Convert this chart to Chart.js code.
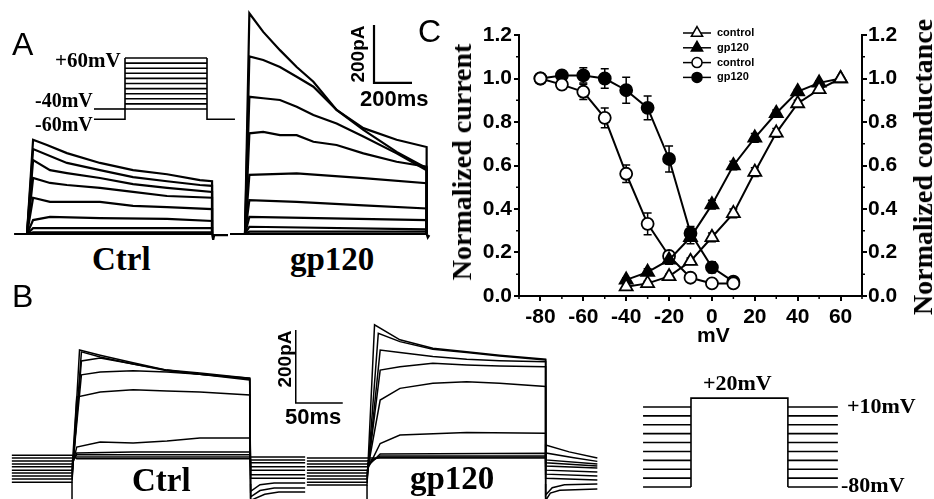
<!DOCTYPE html>
<html lang="en">
<head>
  <meta charset="UTF-8" />
  <title>Kv currents, gp120</title>
  <script src="https://cdn.jsdelivr.net/npm/chart.js"></script>
  <style>
    body { margin: 0; background: #fff; }
    #fig { position: relative; width: 934px; height: 499px; overflow: hidden; background: #fff; }
    #fig canvas { position: absolute; }
    .t { position: absolute; line-height: 1; white-space: nowrap; color: #000; }
    .serif { font-family: 'Liberation Serif', 'Times New Roman', serif; font-weight: bold; }
    .sans { font-family: 'Liberation Sans', Arial, sans-serif; font-weight: bold; }
    .panel { font-family: 'Liberation Sans', Arial, sans-serif; font-size: 32px; }
    .rot { transform: translate(-50%, -50%) rotate(-90deg); }
  </style>
</head>
<body>
<div id="fig">
  <canvas id="protoA" width="150" height="75" style="left:90px;top:50px"></canvas>
  <canvas id="ctrlA" width="220" height="240" style="left:10px;top:0px"></canvas>
  <canvas id="gpA" width="210" height="240" style="left:230px;top:0px"></canvas>
  <canvas id="ctrlB" width="350" height="189" style="left:0px;top:310px"></canvas>
  <canvas id="gpB" width="320" height="189" style="left:300px;top:310px"></canvas>
  <canvas id="protoB" width="220" height="105" style="left:630px;top:390px"></canvas>
  <canvas id="chartC" width="514" height="345" style="left:420px;top:0px"></canvas>

  <div class="t panel" style="left:12px;top:28px">A</div>
  <div class="t panel" style="left:12px;top:280px">B</div>
  <div class="t panel" style="left:418px;top:15px">C</div>

  <div class="t serif" style="left:55px;top:50px;font-size:21px">+60mV</div>
  <div class="t serif" style="left:35px;top:90px;font-size:20px">-40mV</div>
  <div class="t serif" style="left:35px;top:114px;font-size:20px">-60mV</div>
  <div class="t serif" style="left:92px;top:243px;font-size:33px">Ctrl</div>
  <div class="t serif" style="left:290px;top:243px;font-size:33px">gp120</div>
  <div class="t sans rot" style="left:357px;top:54px;font-size:19px">200pA</div>
  <div class="t sans" style="left:360px;top:88px;font-size:22px">200ms</div>

  <div class="t serif" style="left:132px;top:464px;font-size:33px">Ctrl</div>
  <div class="t serif" style="left:410px;top:462px;font-size:33px">gp120</div>
  <div class="t sans rot" style="left:284px;top:359px;font-size:19px">200pA</div>
  <div class="t sans" style="left:285px;top:406px;font-size:22px">50ms</div>
  <div class="t serif" style="left:703px;top:372px;font-size:22px">+20mV</div>
  <div class="t serif" style="left:847px;top:395px;font-size:22px">+10mV</div>
  <div class="t serif" style="left:841px;top:474px;font-size:22px">-80mV</div>

  <div class="t serif rot" style="left:462px;top:162px;font-size:28px">Normalized current</div>
  <div class="t serif rot" style="left:923px;top:167px;font-size:28px">Normalized conductance</div>
  <div class="t sans" style="left:697px;top:324px;font-size:21px">mV</div>
</div>

<script>
  // ---- panel C: activation / inactivation ----
  const mvAct = [-40, -30, -20, -10, 0, 10, 20, 30, 40, 50, 60];
  const gCtrl = [0.043, 0.058, 0.09, 0.16, 0.27, 0.38, 0.57, 0.75, 0.885, 0.95, 1.0];
  const gGp = [0.074, 0.11, 0.166, 0.27, 0.42, 0.6, 0.727, 0.84, 0.94, 0.98, 1.0];
  const gCtrlErr = [0.01, 0.01, 0.01, 0.015, 0.02, 0.02, 0.02, 0.02, 0.015, 0.01, 0];
  const gGpErr = [0.01, 0.015, 0.02, 0.03, 0.02, 0.02, 0.02, 0.015, 0.01, 0.01, 0];

  const mvInact = [-80, -70, -60, -50, -40, -30, -20, -10, 0, 10];
  const iCtrl = [1.0, 0.972, 0.939, 0.819, 0.562, 0.332, 0.184, 0.084, 0.058, 0.058];
  const iGp = [1.0, 1.014, 1.014, 1.0, 0.946, 0.865, 0.63, 0.289, 0.132, 0.066];
  const iCtrlErr = [0, 0.01, 0.035, 0.045, 0.04, 0.05, 0.02, 0.01, 0.01, 0.02];
  const iGpErr = [0, 0.01, 0.035, 0.045, 0.06, 0.055, 0.06, 0.03, 0.025, 0.02];

  const xTicks = [-80, -60, -40, -20, 0, 20, 40, 60];
  const xMinor = [-90, -70, -50, -30, -10, 10, 30, 50, 70];
  const yTicks = [0, 0.2, 0.4, 0.6, 0.8, 1.0, 1.2];
  const yMinor = [0.1, 0.3, 0.5, 0.7, 0.9, 1.1];
  const legendNames = ['control', 'gp120', 'control', 'gp120'];

  // ---- panel A traces: [ms, pA] ----
  const ctrlA = [
    [[32, 325], [105, 307], [210, 279], [384, 245], [558, 220], [737, 206], [910, 186], [974, 182]],
    [[32, 293], [210, 245], [384, 220], [558, 196], [737, 182], [910, 169], [974, 166]],
    [[32, 255], [121, 220], [210, 210], [384, 193], [558, 172], [737, 159], [974, 145]],
    [[32, 193], [121, 176], [210, 169], [384, 159], [558, 145], [737, 131], [974, 125]],
    [[32, 125], [121, 111], [384, 111], [558, 97], [737, 93], [974, 86]],
    [[32, 48], [121, 59], [384, 55], [737, 52], [974, 45]],
    [[32, 20], [974, 20]],
    [[32, 6], [974, 6]]
  ];
  const ctrlAEnd = 974;
  const tGpA = [23, 96, 184, 272, 360, 482, 623, 798, 956];
  const gpABig = [
    [761, 697, 634, 576, 525, 428, 365, 325, 300],
    [612, 600, 576, 542, 508, 428, 359, 283, 227],
    [473, 468, 462, 439, 410, 381, 336, 278, 220],
    [347, 352, 341, 341, 318, 307, 278, 249, 232]
  ];
  const gpASmall = [
    [[23, 204], [272, 209], [623, 193], [956, 175]],
    [[23, 117], [272, 111], [623, 99], [956, 88]],
    [[23, 59], [956, 48]],
    [[23, 25], [956, 16]],
    [[23, 8], [956, 8]]
  ];
  const gpAEnd = 956;
  const barA = { t: 679, pA: 521, ms: 200, amp: 200 };

  // protocol A (mV)
  const stepsA = [-40, -30, -20, -10, 0, 10, 20, 30, 40, 50, 60];
  const holdA = -60, preA = -40, durA = 1000;

  // ---- panel B traces: prepulse level, step [ms, pA], tail [ms, pA] ----
  const ctrlBPre = [5, 14, 22, 30, 38, 47, 55, 63, 71, 79];
  const ctrlBStep = [
    [[8, 367], [30, 353], [65, 332], [101, 312], [136, 304], [189, 290]],
    [[10, 362], [30, 348], [65, 329], [101, 312], [136, 301], [189, 290]],
    [[10, 337], [30, 345], [65, 329], [101, 310], [136, 301], [189, 288]],
    [[10, 299], [30, 307], [65, 310], [101, 307], [136, 301], [189, 285]],
    [[5, 238], [30, 252], [65, 258], [101, 255], [136, 252], [189, 244]],
    [[5, 101], [30, 115], [65, 112], [101, 118], [136, 126], [189, 126]],
    [[5, 85], [65, 88], [189, 88]],
    [[5, 80], [189, 80]],
    [[5, 74], [189, 74]],
    [[5, 69], [189, 69]]
  ];
  const ctrlBTail = [
    [[190, -45], [205, -28], [220, -22], [248, -22]],
    [[190, -35], [200, -18], [215, -11], [248, -11]],
    [[190, -20], [200, -2], [215, 3], [248, 3]],
    [[190, 16], [248, 16]],
    [[190, 25], [248, 25]],
    [[190, 38], [248, 38]],
    [[190, 47], [248, 47]],
    [[190, 58], [248, 58]],
    [[190, 66], [248, 66]],
    [[190, 74], [248, 74]]
  ];
  const gpBPre = [-3, 5, 14, 22, 30, 38, 47, 55, 63, 71];
  const gpBStep = [
    [[8, 436], [35, 395], [70, 372], [106, 362], [141, 353], [190, 342]],
    [[12, 413], [35, 390], [70, 369], [106, 360], [141, 351], [190, 340]],
    [[14, 367], [35, 360], [70, 349], [106, 342], [141, 338], [190, 335]],
    [[14, 312], [35, 321], [70, 331], [106, 326], [141, 323], [190, 321]],
    [[14, 230], [35, 262], [70, 276], [106, 280], [141, 276], [190, 267]],
    [[14, 111], [35, 134], [106, 141], [190, 139]],
    [[14, 82], [190, 84]],
    [[14, 77], [190, 77]],
    [[14, 73], [190, 74]],
    [[14, 71], [190, 71]]
  ];
  const gpBTail = [
    [[190, -45], [195, -25], [205, -17], [245, -14]],
    [[190, -30], [197, -10], [210, -2], [245, 0]],
    [[190, 16], [245, 11]],
    [[190, 27], [245, 22]],
    [[190, 38], [245, 33]],
    [[190, 49], [245, 44]],
    [[190, 58], [245, 49]],
    [[190, 66], [245, 55]],
    [[190, 85], [220, 72], [245, 62]],
    [[190, 107], [215, 88], [245, 71]]
  ];
  const preStartB = -64, stepEndB = 190;
  const barB = { t: 238, pA: 222, ms: 50, amp: 200 };

  // protocol B (mV)
  const prepulsesB = [-80, -70, -60, -50, -40, -30, -20, -10, 0, 10];
  const testB = 20, preB = [-94, 0], testDurB = 190, postEndB = 288;

  Chart.defaults.font.family = "'Liberation Sans', Arial, sans-serif";
  Chart.defaults.color = '#000';

  function traceChart(id, xr, yr, sets, width) {
    return new Chart(document.getElementById(id), {
      type: 'scatter',
      data: {
        datasets: sets.map(d => ({
          data: d.map(([x, y]) => ({ x, y })),
          showLine: true, borderColor: '#000', borderWidth: width,
          pointRadius: 0, tension: 0, clip: 4
        }))
      },
      options: {
        responsive: false, animation: false, events: [],
        devicePixelRatio: 1,
        layout: { padding: 0 },
        plugins: { legend: { display: false }, tooltip: { enabled: false } },
        scales: {
          x: { type: 'linear', display: false, min: xr[0], max: xr[1] },
          y: { type: 'linear', display: false, min: yr[0], max: yr[1] }
        }
      }
    });
  }

  // panel A protocol
  const protoASets = stepsA.map(v => [[0, v], [durA, v]]);
  protoASets.push([[-378, holdA], [0, holdA], [0, stepsA[stepsA.length - 1]]]);
  protoASets.push([[durA, stepsA[stepsA.length - 1]], [durA, holdA], [1341, holdA]]);
  protoASets.push([[-378, preA], [0, preA]]);
  traceChart('protoA', [-426.8, 1402.4], [-71.4, 75.7], protoASets, 1.6);

  // panel A ctrl
  const ctrlASets = ctrlA.map(p => [[0, 0], ...p, [ctrlAEnd, 0]]);
  ctrlASets.push([[-68, 0], [ctrlAEnd, 0], [980, -20], [985, -4], [1058, -4]]);
  traceChart('ctrlA', [-89.5, 1068.4], [-20.7, 806.9], ctrlASets, 2.2);

  // panel A gp120
  const gpASets = gpABig.map(v => [[0, 0], ...v.map((y, i) => [tGpA[i], y]), [gpAEnd, 0]]);
  gpASmall.forEach(p => gpASets.push([[0, 0], ...p, [gpAEnd, 0]]));
  gpASets.push([[-79, 0], [gpAEnd, 0], [962, -12], [970, -4]]);
  gpASets.push([[barA.t, barA.pA + barA.amp], [barA.t, barA.pA], [barA.t + barA.ms, barA.pA]]);
  traceChart('gpA', [-78.9, 1026.3], [-20.7, 806.9], gpASets, 2.2);

  // panel B
  function sweepsB(pre, steps, tails) {
    return pre.map((p, i) => [[preStartB, p], [0, p], ...steps[i], ...tails[i]]);
  }
  const ctrlBSets = sweepsB(ctrlBPre, ctrlBStep, ctrlBTail);
  ctrlBSets.push([[0, -45], [0, 5]], [[stepEndB, -45], [stepEndB, 0]]);
  ctrlBSets.push([[barB.t, barB.pA + barB.amp], [barB.t, barB.pA], [barB.t + barB.ms, barB.pA]]);
  traceChart('ctrlB', [-76.6, 295.7], [-41.1, 476.7], ctrlBSets, 1.5);

  const gpBSets = sweepsB(gpBPre, gpBStep, gpBTail);
  gpBSets.push([[0, -45], [0, -3]], [[stepEndB, -45], [stepEndB, 0]]);
  traceChart('gpB', [-71.3, 269.1], [-41.1, 476.7], gpBSets, 1.5);

  const protoBSets = prepulsesB.map(v => [[preB[0], v], [preB[1], v]]);
  prepulsesB.forEach(v => protoBSets.push([[testDurB, v], [postEndB, v]]));
  protoBSets.push([[0, prepulsesB[0]], [0, testB], [testDurB, testB], [testDurB, prepulsesB[0]]]);
  traceChart('protoB', [-119.6, 311.8], [-89.0, 29.1], protoBSets, 1.6);

  // panel C
  const extras = {
    id: 'extras',
    beforeDatasetsDraw(chart) {
      const ctx = chart.ctx;
      ctx.save();
      ctx.strokeStyle = '#000';
      ctx.lineWidth = 1.5;
      chart.data.datasets.forEach((ds, i) => {
        const sc = chart.scales[ds.yAxisID];
        chart.getDatasetMeta(i).data.forEach((el, j) => {
          const e = ds.errors[j];
          if (!e) return;
          const v = ds.data[j].y;
          const y1 = sc.getPixelForValue(v + e), y2 = sc.getPixelForValue(v - e);
          ctx.beginPath();
          ctx.moveTo(el.x, y1); ctx.lineTo(el.x, y2);
          ctx.moveTo(el.x - 4, y1); ctx.lineTo(el.x + 4, y1);
          ctx.moveTo(el.x - 4, y2); ctx.lineTo(el.x + 4, y2);
          ctx.stroke();
        });
      });
      ctx.restore();
    },
    afterDraw(chart) {
      const ctx = chart.ctx, a = chart.chartArea;
      ctx.save();
      ctx.strokeStyle = '#000';
      ctx.lineWidth = 1.5;
      ctx.beginPath();
      xMinor.forEach(v => {
        const x = chart.scales.x.getPixelForValue(v);
        ctx.moveTo(x, a.bottom); ctx.lineTo(x, a.bottom + 3);
      });
      yMinor.forEach(v => {
        const y = chart.scales.y.getPixelForValue(v);
        ctx.moveTo(a.left, y); ctx.lineTo(a.left - 3, y);
        ctx.moveTo(a.right, y); ctx.lineTo(a.right + 3, y);
      });
      ctx.stroke();

      // legend
      ctx.font = "bold 11px 'Liberation Sans', Arial, sans-serif";
      ctx.textBaseline = 'middle';
      chart.data.datasets.forEach((ds, i) => {
        const y = 33 + i * 14.8;
        ctx.strokeStyle = '#000';
        ctx.lineWidth = 1.5;
        ctx.beginPath(); ctx.moveTo(263, y); ctx.lineTo(291, y); ctx.stroke();
        ctx.fillStyle = ds.pointBackgroundColor;
        ctx.lineWidth = 1.5;
        Chart.helpers.drawPoint(ctx, { pointStyle: ds.pointStyle, radius: ds.pointRadius - 1, rotation: 0, borderWidth: 1.5 }, 277, y);
        ctx.fillStyle = '#000';
        ctx.fillText(ds.label, 297, y);
      });
      ctx.restore();
    }
  };

  const tickFont = { size: 21, weight: 'bold' };
  const axisBase = {
    type: 'linear', min: 0, max: 1.2,
    border: { display: true, color: '#000', width: 2 },
    grid: { drawOnChartArea: false, color: '#000', lineWidth: 2, tickLength: 5 },
    afterBuildTicks: s => { s.ticks = yTicks.map(v => ({ value: v })); },
    ticks: { font: tickFont, color: '#000', callback: v => v.toFixed(1) }
  };

  function series(label, xs, ys, errs, style, filled, axis) {
    return {
      label,
      data: xs.map((x, i) => ({ x, y: ys[i] })),
      errors: errs,
      yAxisID: axis,
      showLine: true,
      borderColor: '#000', borderWidth: 2,
      pointStyle: style,
      pointRadius: style === 'triangle' ? 7.5 : 6,
      pointBorderWidth: 1.8,
      pointBorderColor: '#000',
      pointBackgroundColor: filled ? '#000' : '#fff',
      tension: 0
    };
  }

  new Chart(document.getElementById('chartC'), {
    type: 'scatter',
    data: {
      datasets: [
        series(legendNames[0], mvAct, gCtrl, gCtrlErr, 'triangle', false, 'y2'),
        series(legendNames[1], mvAct, gGp, gGpErr, 'triangle', true, 'y2'),
        series(legendNames[2], mvInact, iCtrl, iCtrlErr, 'circle', false, 'y'),
        series(legendNames[3], mvInact, iGp, iGpErr, 'circle', true, 'y')
      ]
    },
    options: {
      responsive: false, animation: false, events: [],
      devicePixelRatio: 1,
      layout: { padding: { top: 35, left: 0, right: 0, bottom: 0 } },
      plugins: { legend: { display: false }, tooltip: { enabled: false } },
      scales: {
        x: {
          type: 'linear', min: -90, max: 70,
          border: { display: true, color: '#000', width: 2 },
          grid: { drawOnChartArea: false, color: '#000', lineWidth: 2, tickLength: 5 },
          afterBuildTicks: s => { s.ticks = xTicks.map(v => ({ value: v })); },
          afterFit: s => { s.height = 49; },
          ticks: { font: tickFont, color: '#000', padding: 4, maxRotation: 0 }
        },
        y: Object.assign({}, axisBase, {
          position: 'left',
          afterFit: s => { s.width = 99; },
          ticks: Object.assign({}, axisBase.ticks, { padding: 2 })
        }),
        y2: Object.assign({}, axisBase, {
          position: 'right',
          afterFit: s => { s.width = 72; },
          ticks: Object.assign({}, axisBase.ticks, { padding: 1 })
        })
      }
    },
    plugins: [extras]
  });
</script>
</body>
</html>
